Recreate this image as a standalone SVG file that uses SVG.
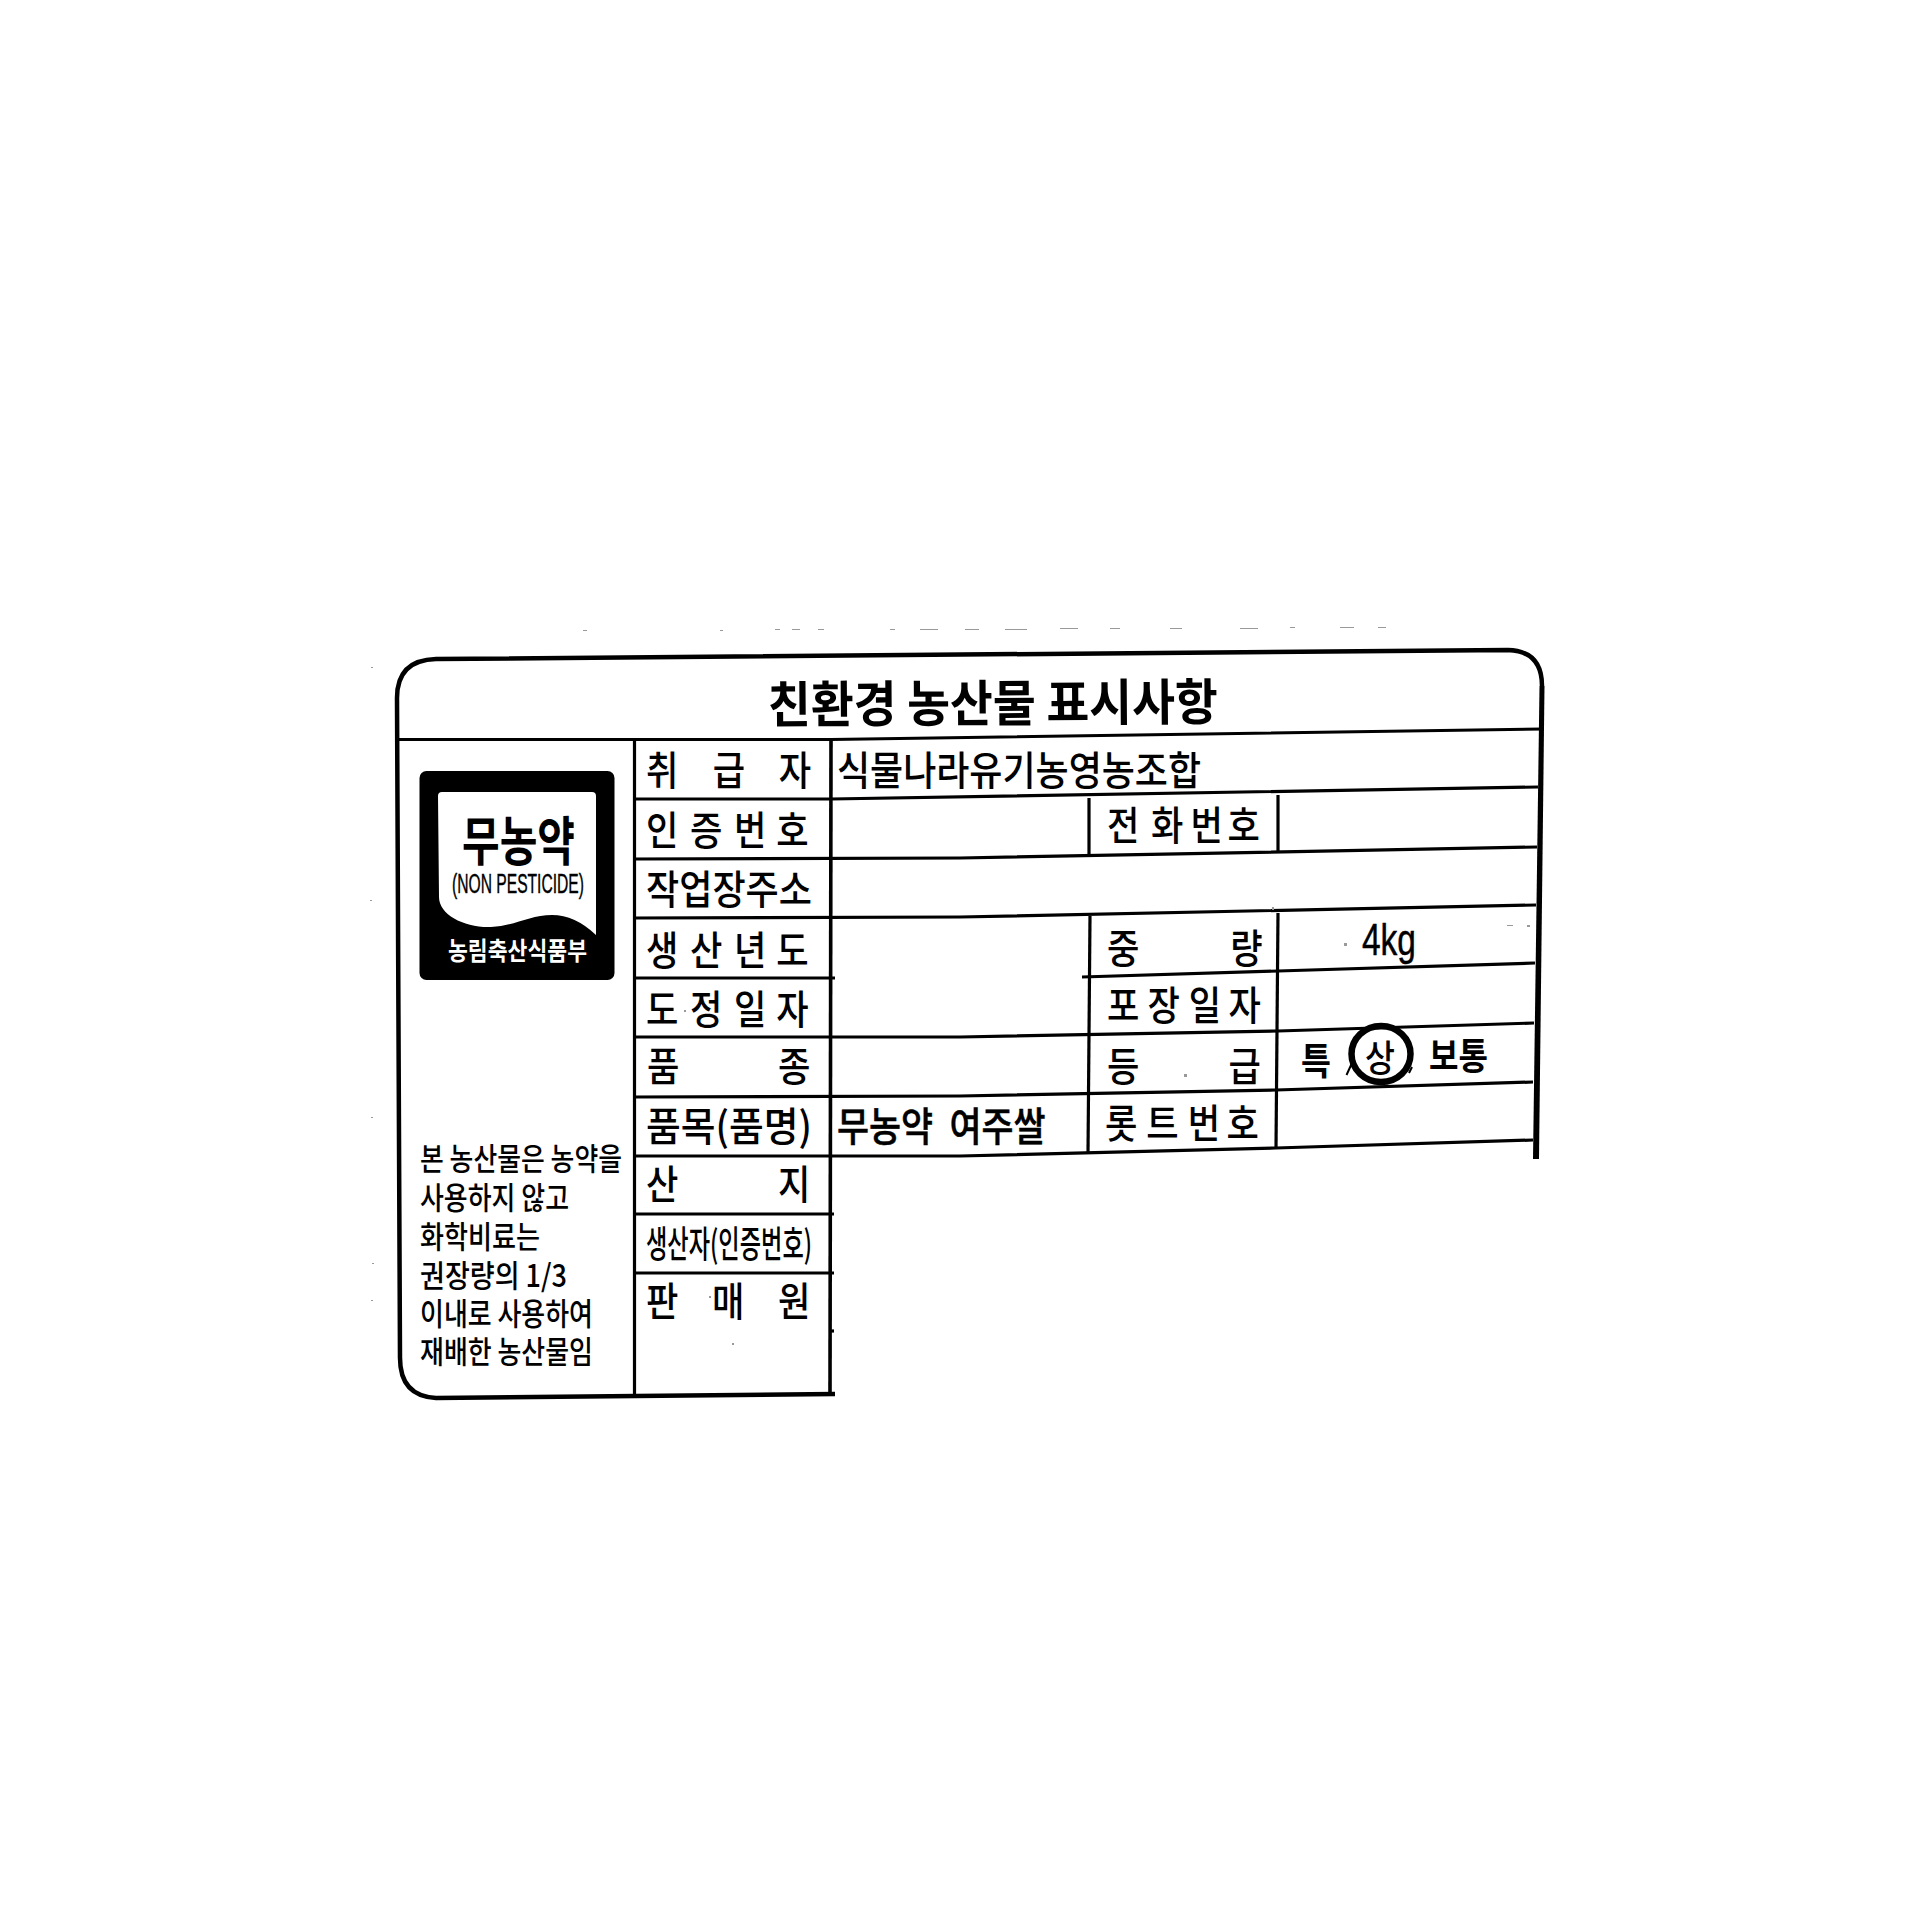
<svg xmlns="http://www.w3.org/2000/svg" width="1920" height="1920" viewBox="0 0 1920 1920">
<style>
text{font-family:"Noto Sans CJK KR","Noto Sans",sans-serif;fill:#000}
.l{font-size:40px;font-weight:500}
.v{font-size:40px;font-weight:500}
.n{font-size:31px;font-weight:500}
.ln{fill:none;stroke:#000;stroke-width:3.2}
.th{fill:none;stroke:#000;stroke-width:4.5}
.sp{fill:#999}
</style>
<rect width="1920" height="1920" fill="#fff"/>
<g id="frame">
<path class="th" d="M835 1394 L436 1398 Q400 1396 400 1358 L397 698 Q397 660 436 659 L1508 650 Q1542 651 1542 686"/>
<path d="M1544.5 686 L1539.5 686 L1533 1159 L1539 1159 Z"/>
</g>
<g id="grid">
<path class="ln" d="M399 739.5 L831 739.5 L1542 729"/>
<path class="ln" d="M634 799 L831 799 L1538 787"/>
<path class="ln" d="M634 859 L960 858 L1537 847"/>
<path class="ln" d="M634 918 L960 917 L1536 905"/>
<path class="ln" d="M634 978 L835 978"/>
<path class="ln" d="M1082 977 L1278 971 L1535 963"/>
<path class="ln" d="M634 1037 L960 1037 L1278 1031 L1534 1023"/>
<path class="ln" d="M634 1097 L960 1096 L1276 1090 L1533 1082"/>
<path class="ln" d="M634 1156 L960 1156 L1276 1148 L1533 1140"/>
<path class="ln" d="M634 1214 L834 1214"/>
<path class="ln" d="M634 1273 L834 1273"/>
<path class="ln" d="M829 1331 L834 1331"/>
<path class="ln" d="M634.5 739 V1394"/>
<path class="ln" d="M831 739 L830 1394" style="stroke-width:3.6"/>
<path class="ln" d="M1089 798 V857"/>
<path class="ln" d="M1278 795 V852"/>
<path class="ln" d="M1090 916 L1088 1153"/>
<path class="ln" d="M1278 913 L1276 1148"/>
</g>
<g id="title"><text x="768" y="723" font-size="50" font-weight="700" textLength="450" lengthAdjust="spacingAndGlyphs" transform="rotate(-0.4 768 723)">친환경 농산물 표시사항</text></g>
<g id="logo">
<rect x="419.5" y="771" width="195" height="209" rx="7"/>
<path fill="#fff" d="M442 792 H592 Q596 792 596 796 V935 Q575 915 552 915 C530 915 515 926 491 927 C465 928 439 915 439 897 L438 796 Q438 792 442 792 Z"/>
<text x="462" y="861" font-size="53" font-weight="700" textLength="113" lengthAdjust="spacingAndGlyphs">무농약</text>
<text x="452" y="893" style="font-family:'Liberation Sans',sans-serif;font-size:27px;stroke:#000;stroke-width:.4" textLength="132" lengthAdjust="spacingAndGlyphs">(NON PESTICIDE)</text>
<text x="448" y="960" font-size="25" font-weight="700" style="fill:#fff" textLength="139" lengthAdjust="spacingAndGlyphs">농림축산식품부</text>
</g>
<g id="notice">
<text class="n" x="420" y="1170" textLength="202" lengthAdjust="spacingAndGlyphs">본 농산물은 농약을</text>
<text class="n" x="420" y="1209" textLength="149" lengthAdjust="spacingAndGlyphs">사용하지 않고</text>
<text class="n" x="420" y="1248" textLength="120" lengthAdjust="spacingAndGlyphs">화학비료는</text>
<text class="n" x="420" y="1287" textLength="147" lengthAdjust="spacingAndGlyphs">권장량의 1/3</text>
<text class="n" x="420" y="1325" textLength="173" lengthAdjust="spacingAndGlyphs">이내로 사용하여</text>
<text class="n" x="420" y="1363" textLength="173" lengthAdjust="spacingAndGlyphs">재배한 농산물임</text>
</g>
<g id="labels">
<text class="l" transform="translate(646 785) scale(.88 1)" x="0 76 151">취급자</text>
<text class="l" transform="translate(646 845) scale(.88 1)" x="0 50 100 148">인증번호</text>
<text class="l" x="646" y="904" textLength="166" lengthAdjust="spacingAndGlyphs">작업장주소</text>
<text class="l" transform="translate(646 965) scale(.88 1)" x="0 50 100 148">생산년도</text>
<text class="l" transform="translate(646 1024) scale(.88 1)" x="0 50 100 148">도정일자</text>
<text class="l" transform="translate(647 1081) scale(.88 1)" x="0 149">품종</text>
<text class="l" x="646" y="1141" textLength="166" lengthAdjust="spacingAndGlyphs">품목(품명)</text>
<text class="l" transform="translate(646 1199) scale(.88 1)" x="0 150">산지</text>
<text class="l" x="646" y="1258" style="font-size:37px" textLength="166" lengthAdjust="spacingAndGlyphs">생산자(인증번호)</text>
<text class="l" transform="translate(646 1316) scale(.88 1)" x="0 75 150">판매원</text>
<text class="l" transform="translate(1107 840) scale(.88 1)" x="0 50 95 137">전화번호</text>
<text class="l" transform="translate(1107 963) scale(.88 1)" x="0 140">중량</text>
<text class="l" transform="translate(1107 1020) scale(.88 1)" x="0 46 93 138">포장일자</text>
<text class="l" transform="translate(1107 1081) scale(.88 1)" x="0 138">등급</text>
<text class="l" transform="translate(1105 1138) scale(.88 1)" x="0 47 94 138">롯트번호</text>
</g>
<g id="values">
<text class="v" x="837" y="785" textLength="364" lengthAdjust="spacingAndGlyphs">식물나라유기농영농조합</text>
<text class="v" transform="translate(837 1141) scale(.87 1)" word-spacing="10" style="stroke:#000;stroke-width:.5">무농약 여주쌀</text>
<text x="1362" y="955" style="font-family:'Liberation Sans',sans-serif;font-size:44px;stroke:#000;stroke-width:.5" textLength="54" lengthAdjust="spacingAndGlyphs">4kg</text>
<text transform="translate(1301 1075) scale(.88 1)" style="font-size:37px;font-weight:700">특</text>
<text transform="translate(1365 1072) scale(.88 1)" style="font-size:37px;font-weight:500">상</text>
<text x="1429" y="1070" style="font-size:37px;font-weight:700" textLength="59" lengthAdjust="spacingAndGlyphs">보통</text>
<ellipse cx="1381" cy="1054" rx="29.5" ry="28" fill="none" stroke="#000" stroke-width="6.5"/>
<path d="M1346.5 1075 L1352 1063 M1409 1073 L1412 1067" fill="none" stroke="#000" stroke-width="2"/>
</g>
<g id="specks">
<rect class="sp" x="583" y="630" width="4" height="1"/><rect class="sp" x="720" y="630" width="3" height="1"/><rect class="sp" x="775" y="629" width="5" height="1"/><rect class="sp" x="792" y="629" width="8" height="1"/><rect class="sp" x="818" y="629" width="6" height="1"/><rect class="sp" x="890" y="629" width="5" height="1"/><rect class="sp" x="920" y="629" width="18" height="1"/><rect class="sp" x="965" y="629" width="14" height="1"/><rect class="sp" x="1005" y="629" width="22" height="1"/><rect class="sp" x="1060" y="628" width="18" height="1"/><rect class="sp" x="1110" y="628" width="10" height="1"/><rect class="sp" x="1170" y="628" width="12" height="1"/><rect class="sp" x="1240" y="628" width="18" height="1"/><rect class="sp" x="1290" y="627" width="5" height="1"/><rect class="sp" x="1340" y="627" width="14" height="1"/><rect class="sp" x="1378" y="627" width="8" height="1"/>
<rect class="sp" x="371" y="667" width="2" height="1"/><rect class="sp" x="370" y="900" width="2" height="1"/><rect class="sp" x="371" y="1117" width="2" height="1"/><rect class="sp" x="372" y="1263" width="2" height="1"/><rect class="sp" x="371" y="1300" width="2" height="1"/>
<rect class="sp" x="684" y="1010" width="2" height="2"/><rect class="sp" x="709" y="1296" width="2" height="2"/><rect class="sp" x="732" y="1343" width="2" height="2"/><rect class="sp" x="1184" y="1074" width="3" height="3"/><rect class="sp" x="1344" y="943" width="3" height="3"/><rect class="sp" x="1272" y="907" width="2" height="3"/><rect class="sp" x="1507" y="925" width="6" height="1"/><rect class="sp" x="1527" y="925" width="3" height="2"/>
</g>
</svg>
